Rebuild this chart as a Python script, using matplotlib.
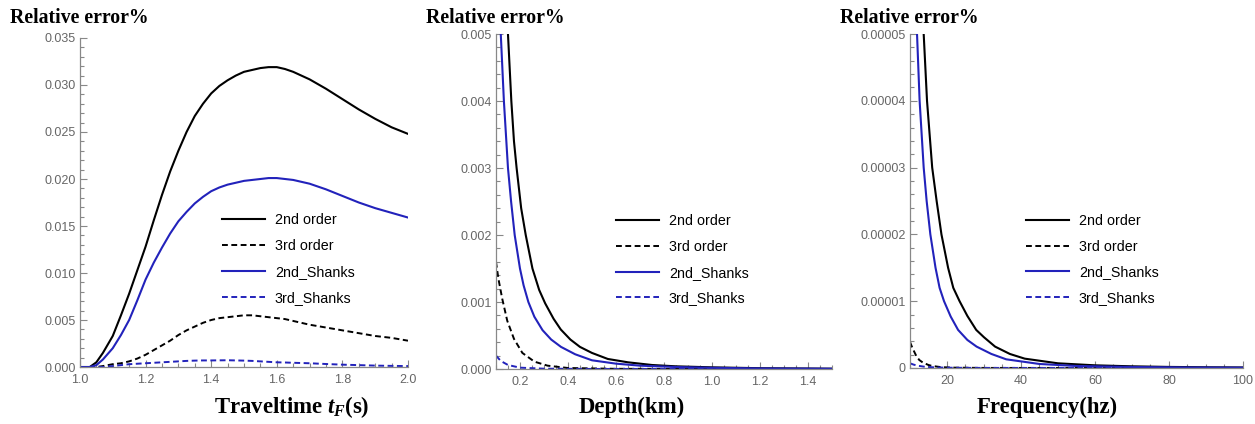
#!/usr/bin/env python
# three panels of relative error (%) for the approximations

import numpy as np
import matplotlib
matplotlib.use('Agg')
import matplotlib.pyplot as plt
from matplotlib.ticker import MultipleLocator, FuncFormatter

plt.rcParams['font.family'] = ['Liberation Sans', 'DejaVu Sans']
plt.rcParams['mathtext.fontset'] = 'custom'
plt.rcParams['mathtext.rm'] = 'Liberation Serif:bold'
plt.rcParams['mathtext.it'] = 'Liberation Serif:italic:bold'
plt.rcParams['mathtext.bf'] = 'Liberation Serif:bold'

labels = ['2nd order', '3rd order', '2nd_Shanks', '3rd_Shanks']

# --- panel 1: traveltime t_F (s)
t_x = [1.0, 1.03, 1.05, 1.07, 1.1, 1.125, 1.15, 1.175, 1.2, 1.225, 1.25,
       1.275, 1.3, 1.325, 1.35, 1.375, 1.4, 1.425, 1.45, 1.475, 1.5, 1.525,
       1.55, 1.575, 1.6, 1.625, 1.65, 1.7, 1.75, 1.8, 1.85, 1.9, 1.95, 2.0]
t_2nd = [0.0, 0.0, 0.0005, 0.0015, 0.0033, 0.0055, 0.0078, 0.0103, 0.0128,
         0.0156, 0.0183, 0.0208, 0.0230, 0.0250, 0.0267, 0.0280, 0.0291,
         0.0299, 0.0305, 0.0310, 0.0314, 0.0316, 0.0318, 0.0319, 0.0319,
         0.0317, 0.0314, 0.0306, 0.0296, 0.0285, 0.0274, 0.0264, 0.0255,
         0.0248]
t_3rd = [0.0, 0.0, 0.0, 0.0001, 0.0003, 0.0004, 0.0006, 0.0009, 0.0013,
         0.0018, 0.0023, 0.0028, 0.0034, 0.0039, 0.0043, 0.0047, 0.0050,
         0.0052, 0.0053, 0.0054, 0.0055, 0.0055, 0.0054, 0.0053, 0.0052,
         0.0051, 0.0049, 0.0045, 0.0042, 0.0039, 0.0036, 0.0033, 0.0031,
         0.0028]
t_2sh = [0.0, 0.0, 0.0002, 0.0008, 0.0020, 0.0034, 0.0050, 0.0071, 0.0093,
         0.0111, 0.0127, 0.0142, 0.0155, 0.0165, 0.0174, 0.0181, 0.0187,
         0.0191, 0.0194, 0.0196, 0.0198, 0.0199, 0.0200, 0.0201, 0.0201,
         0.0200, 0.0199, 0.0195, 0.0189, 0.0182, 0.0175, 0.0169, 0.0164,
         0.0159]
t_3sh = [0.0, 0.0, 0.0, 0.0, 0.0001, 0.0002, 0.0003, 0.00035, 0.0004,
         0.00045, 0.0005, 0.00055, 0.0006, 0.00065, 0.00068, 0.0007, 0.0007,
         0.00071, 0.00072, 0.0007, 0.00068, 0.00065, 0.0006, 0.00055, 0.0005,
         0.00048, 0.00045, 0.0004, 0.00032, 0.00025, 0.0002, 0.00015,
         0.00012, 0.0001]

# --- panel 2: depth (km)
d_x_2nd = [0.145, 0.15, 0.164, 0.175, 0.186, 0.205, 0.224, 0.252, 0.28, 0.305,
           0.34, 0.37, 0.41, 0.45, 0.5, 0.566, 0.65, 0.75, 0.85, 1.0, 1.2, 1.5]
d_2nd = [0.0056, 0.0050, 0.0040, 0.0034, 0.0030, 0.0024, 0.0020, 0.0015,
         0.00118, 0.00098, 0.00075, 0.00059, 0.00044, 0.00033, 0.00024,
         0.00015, 0.0001, 0.00006, 0.00004, 0.000025, 0.000012, 0.000005]
d_x_2sh = [0.117, 0.12, 0.133, 0.15, 0.163, 0.178, 0.2, 0.215, 0.235, 0.26,
           0.294, 0.33, 0.371, 0.43, 0.5, 0.6, 0.7, 0.85, 1.0, 1.2, 1.5]
d_2sh = [0.0055, 0.0050, 0.0040, 0.0030, 0.0025, 0.0020, 0.0015, 0.00125,
         0.0010, 0.00078, 0.00058, 0.00044, 0.00033, 0.00022, 0.00013,
         0.00008, 0.00005, 0.00003, 0.000018, 0.000009, 0.000004]
d_x_3rd = [0.1, 0.11, 0.126, 0.147, 0.175, 0.21, 0.26, 0.315, 0.4, 0.6, 1.5]
d_3rd = [0.0016, 0.00135, 0.00105, 0.00072, 0.00045, 0.00024, 0.00011,
         0.00005, 0.000015, 0.000003, 0.0]
d_x_3sh = [0.1, 0.12, 0.15, 0.2, 0.3, 0.5, 1.5]
d_3sh = [0.0002, 0.00012, 0.00006, 0.00002, 0.000005, 0.000001, 0.0]

# --- panel 3: frequency (hz)
f_x_2nd = [13.3, 13.7, 14.6, 16, 17.2, 18.5, 20.3, 21.7, 23.4, 25.5, 27.9,
           30, 33, 37, 41, 50, 60, 70, 80, 90, 100]
f_2nd = [5.5e-5, 5.0e-5, 4.0e-5, 3.0e-5, 2.5e-5, 2.0e-5, 1.5e-5, 1.2e-5,
         1.0e-5, 7.8e-6, 5.7e-6, 4.6e-6, 3.2e-6, 2.1e-6, 1.4e-6, 7e-7, 4e-7,
         2.5e-7, 1.6e-7, 1.1e-7, 8e-8]
f_x_2sh = [11.6, 11.9, 12.6, 13.7, 14.5, 15.5, 16.9, 18, 19.2, 21, 23, 25.5,
           28, 32, 36, 45, 55, 70, 85, 100]
f_2sh = [5.5e-5, 5.0e-5, 4.0e-5, 3.0e-5, 2.5e-5, 2.0e-5, 1.5e-5, 1.2e-5,
         1.0e-5, 7.7e-6, 5.7e-6, 4.2e-6, 3.2e-6, 2.1e-6, 1.3e-6, 6e-7, 3e-7,
         1.5e-7, 8e-8, 5e-8]
f_x_3rd = [10, 10.5, 11, 11.7, 12.5, 13.5, 15, 16, 18.5, 22, 30, 100]
f_3rd = [3.9e-6, 3.2e-6, 2.6e-6, 1.8e-6, 1.2e-6, 8e-7, 4.5e-7, 3e-7, 1.2e-7,
         5e-8, 1e-8, 0.0]
f_x_3sh = [10, 11, 12, 14, 17, 22, 30, 100]
f_3sh = [7e-7, 5e-7, 3.5e-7, 1.8e-7, 8e-8, 3e-8, 1e-8, 0.0]

BLUE = '#2222bb'
DASH = (3, 1.8)
GRAY = '#888888'

fig = plt.figure(figsize=(12.55, 4.24), dpi=100)


def style_axes(ax, xlim, ylim, xmaj, xmin_, ymaj, ymin_, yfmt, xfmt):
    ax.set_xlim(*xlim)
    ax.set_ylim(*ylim)
    for s in ['top', 'right']:
        ax.spines[s].set_visible(False)
    for s in ['left', 'bottom']:
        ax.spines[s].set_color(GRAY)
        ax.spines[s].set_linewidth(0.9)
    ax.xaxis.set_major_locator(MultipleLocator(xmaj))
    ax.xaxis.set_minor_locator(MultipleLocator(xmin_))
    ax.yaxis.set_major_locator(MultipleLocator(ymaj))
    ax.yaxis.set_minor_locator(MultipleLocator(ymin_))
    ax.yaxis.set_major_formatter(FuncFormatter(yfmt))
    ax.xaxis.set_major_formatter(FuncFormatter(xfmt))
    ax.tick_params(which='both', direction='in', colors=GRAY, labelcolor='#666666',
                   labelsize=9, width=0.8)
    ax.tick_params(which='major', length=5)
    ax.tick_params(which='minor', length=3)
    ax.tick_params(axis='y', pad=3)
    ax.tick_params(axis='x', pad=5)


def draw(ax, x1, y1, x2, y2, x3, y3, x4, y4, anchor):
    ax.plot(x1, y1, color='black', lw=1.5, label=labels[0])
    ax.plot(x2, y2, color='black', lw=1.4, dashes=DASH, label=labels[1])
    ax.plot(x3, y3, color=BLUE, lw=1.5, label=labels[2])
    ax.plot(x4, y4, color=BLUE, lw=1.4, dashes=DASH, label=labels[3])
    ax.legend(loc='upper left', bbox_to_anchor=anchor, frameon=False,
              fontsize=10.3, handlelength=3.0, handletextpad=0.7,
              labelspacing=0.82, borderpad=0, borderaxespad=0)


ax1 = fig.add_axes([0.0637, 0.1344, 0.2614, 0.776])
draw(ax1, t_x, t_2nd, t_x, t_3rd, t_x, t_2sh, t_x, t_3sh, (0.433, 0.467))
style_axes(ax1, (1.0, 2.0), (0, 0.035), 0.2, 0.05, 0.005, 0.001,
           lambda v, p: '%.3f' % v, lambda v, p: '%.1f' % v)

ax2 = fig.add_axes([0.3952, 0.1297, 0.2677, 0.790])
draw(ax2, d_x_2nd, d_2nd, d_x_3rd, d_3rd, d_x_2sh, d_2sh, d_x_3sh, d_3sh,
     (0.357, 0.462))
style_axes(ax2, (0.1, 1.5), (0, 0.005), 0.2, 0.05, 0.001, 0.0002,
           lambda v, p: '%.3f' % v, lambda v, p: '%.1f' % v)

ax3 = fig.add_axes([0.7251, 0.1321, 0.2653, 0.7877])
draw(ax3, f_x_2nd, f_2nd, f_x_3rd, f_3rd, f_x_2sh, f_2sh, f_x_3sh, f_3sh,
     (0.348, 0.461))
style_axes(ax3, (10, 100), (0, 5e-5), 20, 5, 1e-5, 2e-6,
           lambda v, p: '0' if abs(v) < 1e-12 else '%.5f' % v,
           lambda v, p: '%d' % round(v))

serif = ['Liberation Serif', 'DejaVu Serif']
for x in [10 / 1255, 426 / 1255, 840 / 1255]:
    fig.text(x, 1 - 18 / 424, 'Relative error%', family=serif, weight='bold',
             fontsize=14.2, va='center', ha='left')

xlab = ['Traveltime $t_F$(s)', 'Depth(km)', 'Frequency(hz)']
for xc, lab in zip([292, 632, 1047], xlab):
    fig.text(xc / 1255, 1 - 407 / 424, lab, family=serif, weight='bold',
             fontsize=16.4, ha='center', va='center')

fig.savefig('out.png', dpi=100, facecolor='white')
